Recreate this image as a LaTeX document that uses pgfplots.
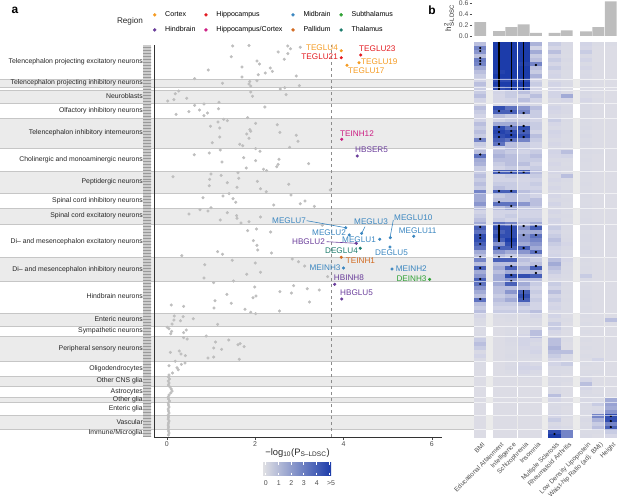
\documentclass[border=0pt]{standalone}
\usepackage{pgfplots}
\pgfplotsset{compat=1.18}
\usepackage{pgfplotstable}
\usepackage{amsmath}
\usepackage{fontspec}
\setmainfont{Liberation Sans}
\usetikzlibrary{patterns}

\newcommand\fs[1]{\fontsize{#1}{#1}\selectfont}

\definecolor{band}{HTML}{EBEBEB}
\definecolor{bline}{HTML}{C6C6C6}
\definecolor{dotg}{HTML}{BEBEBE}
\definecolor{txt}{HTML}{4D4D4D}
\definecolor{barg}{HTML}{BDBDBD}
\definecolor{cCtx}{HTML}{F59B22}
\definecolor{cHip}{HTML}{E3191F}
\definecolor{cMid}{HTML}{3A86C0}
\definecolor{cSub}{HTML}{2FA134}
\definecolor{cHind}{HTML}{6A3D9A}
\definecolor{cHC}{HTML}{CC1C82}
\definecolor{cPal}{HTML}{D2691E}
\definecolor{cTha}{HTML}{1B7B6C}
\definecolor{hm0}{RGB}{224,224,228}
\definecolor{hmA}{RGB}{210,212,230}
\definecolor{hm1}{RGB}{138,150,206}
\definecolor{hm2}{RGB}{28,60,170}

\pgfdeclareplotmark{cell}{%
  \pgfpathrectangle{\pgfqpoint{-6.1bp}{-2.1bp}}{\pgfqpoint{12.2bp}{4.2bp}}%
  \pgfusepathqfill}

\pgfplotsset{hmcell/.style={scatter, only marks, mark=cell, point meta=explicit,
    scatter/use mapped color={fill=mapped color}}}

% heatmap rows: y = -(pixel row), values on the 0..5 scale of -log10 P
\pgfplotstableread{
y bmi edu int sch ins ms ra ldl whr hgt
-44 1.5 5 5 5 1.8 1.2 0.6 1.0 0.4 0.4
-48 3.0 5 5 5 1.0 0.8 0.5 0.8 0.3 0.3
-52 2.5 5 5 5 2.0 1.5 0.5 1.2 0.3 0.3
-56 1.5 5 5 5 1.2 0.8 0.4 0.6 0.3 0.3
-60 3.2 5 5 5 1.5 1.2 0.6 1.0 0.3 0.3
-64 3.0 5 5 4.8 3.0 0.8 0.4 0.5 0.3 0.3
-68 2.0 5 5 5 1.5 1.2 0.5 0.8 0.3 0.3
-72 1.5 4.8 5 5 1.2 0.8 0.4 0.5 0.3 0.3
-76 1.2 5 5 5 1.8 1.0 0.4 0.6 0.3 0.3
-80 1.0 4.6 4.6 4.6 1.0 0.6 0.4 0.4 0.3 0.3
-84 1.5 5 5 5 1.2 1.0 0.5 0.5 0.3 0.3
-88 1.2 4.6 4.8 4.8 1.0 0.8 0.4 0.4 0.3 0.3
-92 1.2 1.0 1.2 1.5 1.0 1.0 0.5 0.6 0.4 0.3
-96 1.5 0.8 1.2 1.0 1.5 1.0 2.0 0.5 0.3 0.3
-100 1.0 0.8 1.0 1.5 1.0 0.6 0.8 0.8 0.4 0.3
-104 0.6 0.6 0.8 0.8 0.6 0.6 0.4 0.5 0.3 0.3
-108 1.5 4.5 3.5 2.5 1.5 1.0 0.6 0.5 0.3 0.3
-112 1.2 4.0 4.0 3.0 1.2 0.8 0.6 0.4 0.3 0.3
-116 1.0 1.5 1.2 1.0 1.2 0.6 0.4 0.4 0.3 0.3
-120 1.0 1.0 1.2 1.2 1.0 1.2 0.5 0.5 0.3 0.3
-124 1.5 2.0 2.0 1.5 1.2 0.8 0.4 0.4 0.3 0.3
-128 1.2 4.5 3.5 4.5 1.2 0.6 0.4 0.5 0.3 0.3
-132 1.5 4.8 4.5 4.0 1.0 1.0 0.5 0.4 0.3 0.3
-136 1.2 4.5 4.8 4.5 1.5 0.8 0.4 0.6 0.3 0.3
-140 3.0 4.0 3.5 3.0 1.2 0.6 0.4 0.4 0.3 0.3
-144 1.2 3.5 1.5 1.2 1.0 0.8 0.5 0.5 0.3 0.3
-148 1.0 1.2 1.5 1.2 1.0 0.6 0.4 0.4 0.3 0.3
-152 1.5 1.5 1.2 1.0 1.2 1.0 1.5 0.5 0.4 0.3
-156 3.5 1.8 1.5 1.2 1.5 0.8 1.0 0.4 0.3 0.3
-160 2.0 1.5 1.5 1.2 1.2 0.6 0.5 0.5 0.3 0.3
-164 1.8 1.2 1.5 1.5 1.0 0.8 0.4 0.4 0.3 0.3
-168 1.2 1.0 1.2 1.0 1.2 0.6 0.5 0.4 0.3 0.3
-172 1.2 4.0 4.0 4.0 1.5 0.8 0.4 0.5 0.3 0.3
-176 1.5 1.0 1.2 1.0 1.2 0.6 1.5 0.4 0.3 0.3
-180 1.2 1.0 1.0 0.8 1.0 0.8 0.5 0.4 0.3 0.3
-184 1.5 1.2 1.2 1.0 1.2 0.6 0.4 0.5 0.3 0.3
-188 1.2 1.5 1.2 1.0 1.0 0.8 0.4 0.4 0.3 0.3
-192 3.0 4.0 4.0 1.5 1.2 0.6 0.5 0.4 0.3 0.3
-196 2.0 1.2 1.5 1.2 1.0 0.8 0.4 0.5 0.3 0.3
-200 2.0 1.5 1.5 1.2 1.5 0.6 0.5 0.4 0.3 0.3
-204 2.5 3.5 3.5 2.5 1.5 1.0 0.4 0.4 0.3 0.3
-208 1.5 1.5 2.0 1.2 1.2 0.6 0.4 0.5 0.3 0.3
-212 1.0 1.0 1.0 1.0 1.0 0.8 0.4 0.4 0.3 0.3
-216 1.2 1.0 1.2 1.0 1.0 0.6 0.5 0.4 0.3 0.3
-220 1.5 1.2 1.0 1.2 1.2 1.0 0.4 0.5 0.3 0.3
-224 2.0 3.5 3.0 1.5 2.0 0.8 0.5 0.4 0.3 0.3
-228 4.0 4.5 4.5 2.5 4.0 1.2 0.5 0.5 0.3 0.3
-232 3.5 4.0 4.5 2.0 2.0 1.0 0.4 0.4 0.3 0.3
-236 4.5 4.5 4.5 2.5 3.5 1.2 0.5 0.5 0.3 0.3
-240 4.5 4.0 5.0 2.5 3.0 1.5 0.6 0.5 0.3 0.3
-244 4.0 2.5 4.5 2.0 2.5 1.2 0.8 0.4 0.3 0.3
-248 3.5 4.0 4.0 4.0 2.0 1.0 0.6 0.5 0.3 0.3
-252 2.0 2.5 2.0 2.5 3.5 0.8 0.5 0.6 0.3 0.3
-256 1.5 1.5 1.2 1.5 1.5 1.0 0.6 0.4 0.3 0.3
-260 3.0 4.0 4.0 1.5 1.2 1.5 0.8 0.5 0.3 0.3
-264 1.5 1.5 1.5 1.2 1.5 2.0 0.6 0.4 0.3 0.3
-268 4.0 2.0 4.0 2.0 4.0 1.5 0.5 0.5 0.3 0.3
-272 2.0 1.5 2.0 1.5 1.5 1.2 0.6 0.4 0.3 0.3
-276 2.5 2.0 4.5 4.5 4.0 0.8 0.5 1.2 0.3 0.3
-280 4.0 2.0 2.5 1.5 1.5 0.6 0.4 0.5 0.3 0.3
-284 3.5 2.0 4.0 2.0 1.2 1.2 0.5 0.4 0.3 0.3
-288 2.5 1.5 1.5 1.5 1.0 1.0 0.4 0.5 0.3 0.3
-292 2.0 1.5 2.5 4.0 1.2 1.5 0.5 0.4 0.3 0.3
-296 1.5 1.2 1.5 4.5 1.0 1.0 0.4 0.4 0.3 0.3
-300 3.5 1.5 2.0 4.0 1.2 1.2 0.5 0.5 0.3 0.3
-304 1.5 1.2 1.2 1.5 1.0 0.8 0.4 0.4 0.3 0.3
-308 1.2 1.0 1.0 1.0 1.0 1.0 0.4 0.5 0.3 0.3
-312 1.5 1.2 1.2 1.2 1.5 0.6 0.5 0.4 0.3 0.3
-316 0.8 0.4 0.5 0.5 0.8 1.0 0.3 0.4 0.3 0.3
-320 0.5 0.3 0.4 0.5 0.5 0.6 0.4 0.3 0.3 1.5
-324 0.4 0.3 0.3 0.4 0.4 1.2 0.3 0.4 0.3 0.3
-328 0.5 0.3 0.4 0.5 0.6 1.2 0.4 0.3 0.3 0.3
-332 0.4 0.3 0.4 0.6 1.5 0.8 0.3 0.4 0.3 0.3
-336 0.5 0.3 0.5 0.8 1.5 0.6 0.3 0.3 0.3 0.3
-340 1.2 0.3 0.6 1.0 0.8 1.5 0.4 0.4 0.3 0.3
-344 1.5 0.3 0.5 1.0 0.6 1.5 0.3 0.3 0.3 0.3
-348 1.2 0.3 0.4 0.8 0.8 1.8 0.3 0.4 0.3 0.3
-352 0.6 0.3 0.4 0.6 1.0 1.5 1.5 0.3 0.3 0.3
-356 1.0 0.3 0.5 0.5 0.6 1.2 0.5 0.4 0.3 0.3
-360 0.5 0.3 0.4 0.4 0.4 0.8 0.4 0.3 1.0 0.3
-364 0.4 0.3 0.5 0.8 0.6 1.0 1.2 0.4 0.3 0.3
-368 0.4 0.3 0.6 1.0 1.0 0.6 0.5 0.3 0.3 0.3
-372 0.3 0.3 0.4 0.8 0.6 0.5 0.4 0.4 0.4 0.3
-376 0.3 0.3 0.3 0.5 0.4 0.6 0.3 0.5 0.3 0.3
-380 0.3 0.3 0.3 0.3 0.3 0.5 0.4 0.8 0.3 0.3
-384 0.3 0.3 0.3 0.3 0.3 0.6 0.3 1.5 0.3 0.3
-388 0.3 0.3 0.3 0.3 0.3 0.5 0.3 0.8 0.4 0.3
-392 0.3 0.3 0.3 0.3 0.3 0.6 0.3 0.5 0.3 0.3
-396 0.3 0.3 0.3 0.3 0.3 1.5 0.3 0.4 0.4 0.3
-400 0.3 0.3 0.3 0.3 0.3 0.8 0.3 0.6 0.4 2.0
-404 0.3 0.3 0.3 0.3 0.3 0.5 0.4 0.5 1.2 2.2
-408 0.3 0.3 0.3 0.3 0.3 0.6 0.3 0.4 0.6 2.0
-412 0.3 0.3 0.3 0.3 0.3 0.5 0.3 0.5 0.8 2.5
-416 0.3 0.3 0.3 0.3 0.3 0.8 0.4 0.4 3.0 4.5
-420 0.3 0.3 0.3 0.3 0.3 1.2 0.3 0.6 1.8 4.5
-424 0.3 0.3 0.3 0.3 0.3 0.6 0.3 0.4 1.2 3.0
-428 0.3 0.3 0.3 0.3 0.3 0.8 0.5 0.5 1.5 4.0
-432 0.3 0.3 0.3 0.3 0.3 4.5 3.0 0.4 0.4 1.2
-436 0.3 0.3 0.3 0.3 0.3 5.0 3.0 0.5 0.3 0.8
}\hm

\begin{document}
\begin{tikzpicture}

\begin{scope}[x=1bp,y=-1bp]
  % alternating row bands
  \foreach \a/\b in {79/87,90/103,118/148,171/193,208/224,257/281,313/326,336/361,376/386.5,397.5/402,415/429.5}
    \fill[band] (0,\a) rectangle (617,\b);
  \foreach \y in {79,87,90,103,118,148,171,193,208,224,257,281,313,326,336,361,376,386.5,397.5,402,415,429.5}
    \draw[bline, line width=0.5bp] (0,\y) -- (617,\y);
  % cell-type name strip
  \fill[gray!40] (143,45) rectangle (151,437);
  \fill[pattern=horizontal lines, pattern color=gray!80] (143,45) rectangle (151,437);
\end{scope}

% ---------- panel a ----------
\begin{axis}[
  at={(154bp,-437bp)}, anchor=south west,
  scale only axis, width=288bp, height=392bp,
  xmin=-0.29, xmax=6.23, ymin=-437, ymax=-45,
  axis x line*=bottom, axis y line*=left,
  axis line style={draw=black!80, line width=1bp, -},
  xtick={0,2,4,6}, ytick=\empty,
  tick align=outside, major tick length=3bp,
  tick style={black!70, line width=0.5bp},
  xticklabel style={font=\fs{7}, text=txt, inner sep=1.5bp},
  /pgf/number format/assume math mode=true,
  clip=false,
  legend columns=4,
  legend cell align=left,
  legend image code/.code={\path[draw=none] (-3bp,0bp) -- (8.5bp,0bp);
    \draw[#1] plot coordinates {(0bp,0bp)};},
  legend style={at={(-0.019,1.096)}, anchor=north west, draw=none, fill=none,
    font=\fs{7.1}, row sep=4.5bp,
    /tikz/every even column/.append style={column sep=5.5bp}},
]
\addplot[dashed, dash pattern=on 3bp off 3bp, black!45, line width=0.5bp, forget plot]
  coordinates {(3.73,-437) (3.73,-45)};

\addplot[only marks, mark=*, mark size=1.35bp, dotg, forget plot] coordinates {
 (1.49,-46) (1.86,-45.5) (2.74,-46) (2.80,-48.7) (2.52,-52) (2.74,-53.7) (1.46,-56.7)
 (2.66,-59.3) (2.04,-61) (2.10,-64) (0.94,-70) (1.70,-67) (2.34,-68) (2.39,-71.3)
 (2.23,-73) (2.07,-74.7) (1.70,-77) (2.93,-76) (3.02,-47.3)
 (0.63,-78.7) (2.04,-80.7) (1.26,-83.3) (1.88,-81.5) (1.86,-84) (1.90,-86) (2.57,-89)
 (2.67,-87.7) (3.00,-85.7) (1.90,-92) (2.70,-94.7) (1.94,-96.3) (0.27,-91) (0.19,-93.7)
 (0.16,-99.7) (0.02,-101) (0.45,-98.3)
 (0.63,-105.3) (0.84,-104) (1.18,-102.3) (1.17,-108.7) (0.74,-110) (0.50,-111.7)
 (0.92,-113) (0.84,-115.7) (0.21,-114.3) (2.22,-107)
 (1.83,-117.7) (1.29,-119.3) (1.37,-120.7) (1.16,-122) (2.01,-123.3) (0.99,-126.3)
 (1.20,-128) (2.50,-124.7) (1.88,-129.7) (1.90,-131.3) (1.81,-134) (1.86,-138.3)
 (2.56,-132.3) (1.20,-137) (2.93,-135.3) (2.97,-141.3) (1.03,-142.7) (1.65,-144.3)
 (1.72,-145.7) (2.78,-147.3)
 (2.01,-148.7) (2.11,-151.3) (1.21,-150) (0.96,-153) (0.62,-154.7) (1.74,-157.7)
 (2.01,-160.7) (1.25,-162) (2.54,-159.3) (2.52,-164.3) (2.49,-166.7) (3.21,-163.7)
 (1.80,-168) (2.19,-169.3) (2.26,-170.7)
 (0.14,-176.7) (1.00,-174) (1.23,-175.3) (1.61,-172.7) (0.97,-179.3) (0.96,-185.7)
 (1.63,-178.3) (1.37,-182.7) (1.59,-187.3) (2.05,-181.3) (2.12,-188.7) (2.25,-191.7)
 (2.76,-184.3) (3.70,-190)
 (1.41,-193.7) (0.82,-197.7) (1.27,-196) (1.50,-198.7) (1.56,-202.3) (2.81,-195)
 (2.42,-205) (3.02,-203.7) (3.13,-201) (3.34,-206.3)
 (0.50,-214) (0.75,-209.7) (0.93,-211) (1.00,-207.7) (1.21,-220) (1.37,-212.7)
 (1.58,-215.7) (1.59,-218.3) (1.68,-223) (1.86,-221.7) (2.12,-217) (3.52,-225.3)
 (1.83,-230.7) (2.03,-229) (2.35,-232) (1.96,-240.7) (2.04,-245.3) (2.06,-250)
 (1.15,-251.7) (1.26,-254.3) (2.37,-253) (0.34,-255.7)
 (0.86,-264.7) (1.48,-260.3) (2.00,-263) (1.81,-274.3) (2.12,-272.3) (0.84,-278)
 (1.06,-282.7) (1.51,-281) (2.84,-259) (2.98,-261.7) (3.12,-266) (3.64,-276.7)
 (1.99,-287) (2.56,-291.7) (2.87,-285.7) (2.82,-293) (3.18,-288.7) (3.45,-290)
 (3.23,-302) (1.36,-294.3) (1.09,-300.7) (1.46,-303.3) (1.07,-308) (1.95,-297.7)
 (2.02,-296) (0.10,-305) (0.38,-306.3) (1.77,-309.3) (1.90,-312.3) (2.01,-313.7) (2.55,-311)
 (0.17,-316) (0.16,-320) (0.12,-324) (0.01,-327.3) (0.05,-328.7) (0.37,-316.7)
 (0.31,-320.7) (0.60,-318.7) (1.15,-324.3)
 (0.44,-330) (0.38,-332.7) (0.09,-333.7) (0.11,-331.3) (0.38,-337.7) (0.46,-339) (0.89,-336)
 (1.10,-342) (1.40,-340) (1.61,-344.7) (1.66,-343.7) (1.75,-346.7) (1.06,-348)
 (1.24,-349.3) (0.08,-352.3) (0.28,-351) (0.32,-354) (0.42,-355.7) (0.93,-358)
 (1.06,-357) (1.64,-359.3)
 (0.05,-365.7) (0.19,-361.3) (0.41,-363) (0.33,-364.3) (0.23,-367.7) (0.26,-369.7)
 (0.13,-373) (0.05,-375)
 (0.04,-377) (0.06,-379) (0.03,-381) (0.05,-383) (0.04,-385) (0.07,-387) (0.10,-389)
 (0.12,-391) (0.09,-393) (0.05,-395) (0.03,-397) (0.04,-399) (0.06,-401) (0.03,-403)
 (0.04,-405) (0.05,-407) (0.03,-409) (0.04,-411) (0.05,-413) (0.03,-415) (0.04,-417)
 (0.03,-419) (0.05,-421) (0.04,-423) (0.03,-425) (0.04,-427) (0.03,-429) (0.04,-431)
 (0.05,-433) (0.04,-435)
};

\addplot[only marks, mark=*, mark size=1.35bp, cCtx, forget plot] coordinates {(3.95,-50.7) (4.35,-62.7) (4.08,-65.3)};
\addplot[only marks, mark=*, mark size=1.35bp, cHip, forget plot] coordinates {(4.39,-55) (3.95,-57.7)};
\addplot[only marks, mark=*, mark size=1.35bp, cHC, forget plot] coordinates {(3.96,-139.3)};
\addplot[only marks, mark=*, mark size=1.35bp, cHind, forget plot] coordinates {(4.31,-156) (4.29,-243.3) (3.80,-284.3) (3.96,-299)};
\addplot[only marks, mark=*, mark size=1.35bp, cMid, forget plot] coordinates {(4.05,-227.7) (4.41,-233.3) (5.06,-237.7) (4.13,-235) (5.59,-236.3) (4.82,-239.3) (5.05,-247) (4.00,-268) (5.10,-269)};
\addplot[only marks, mark=*, mark size=1.35bp, cTha, forget plot] coordinates {(4.38,-248.3)};
\addplot[only marks, mark=*, mark size=1.35bp, cPal, forget plot] coordinates {(3.95,-257.3)};
\addplot[only marks, mark=*, mark size=1.35bp, cSub, forget plot] coordinates {(5.95,-279.3)};

\addlegendimage{only marks, mark=*, mark size=1.5bp, cCtx}\addlegendentry{Cortex}
\addlegendimage{only marks, mark=*, mark size=1.5bp, cHip}\addlegendentry{Hippocampus}
\addlegendimage{only marks, mark=*, mark size=1.5bp, cMid}\addlegendentry{Midbrain}
\addlegendimage{only marks, mark=*, mark size=1.5bp, cSub}\addlegendentry{Subthalamus}
\addlegendimage{only marks, mark=*, mark size=1.5bp, cHind}\addlegendentry{Hindbrain}
\addlegendimage{only marks, mark=*, mark size=1.5bp, cHC}\addlegendentry{Hippocampus/Cortex}
\addlegendimage{only marks, mark=*, mark size=1.5bp, cPal}\addlegendentry{Pallidum}
\addlegendimage{only marks, mark=*, mark size=1.5bp, cTha}\addlegendentry{Thalamus}
\end{axis}

% ---------- panel b heatmap ----------
\begin{axis}[
  at={(474bp,-438bp)}, anchor=south west, scale only axis,
  width=143bp, height=396bp, xmin=474, xmax=617, ymin=-438, ymax=-42,
  hide axis, clip=false,
  colormap={hm}{color(0cm)=(hm0) color(1cm)=(hmA) color(2.5cm)=(hm1) color(5cm)=(hm2)},
  point meta min=0, point meta max=5,
]
\addplot[hmcell] table[x expr=480.3, y=y, meta=bmi] \hm;
\addplot[hmcell] table[x expr=499.0, y=y, meta=edu] \hm;
\addplot[hmcell] table[x expr=511.3, y=y, meta=int] \hm;
\addplot[hmcell] table[x expr=523.6, y=y, meta=sch] \hm;
\addplot[hmcell] table[x expr=535.9, y=y, meta=ins] \hm;
\addplot[hmcell] table[x expr=554.5, y=y, meta=ms] \hm;
\addplot[hmcell] table[x expr=566.8, y=y, meta=ra] \hm;
\addplot[hmcell] table[x expr=586.0, y=y, meta=ldl] \hm;
\addplot[hmcell] table[x expr=598.3, y=y, meta=whr] \hm;
\addplot[hmcell] table[x expr=610.8, y=y, meta=hgt] \hm;
\end{axis}

% significance marks on top of the heatmap
\begin{axis}[
  at={(474bp,-438bp)}, anchor=south west, scale only axis,
  width=143bp, height=396bp, xmin=474, xmax=617, ymin=-438, ymax=-42,
  hide axis, clip=false,
]
\addplot[black, line width=1.1bp] coordinates {(499.0,-42) (499.0,-90)};
\addplot[black, line width=1.1bp] coordinates {(511.3,-42) (511.3,-90)};
\addplot[black, line width=1.1bp] coordinates {(523.6,-42) (523.6,-90)};
\addplot[black, line width=1.1bp] coordinates {(499.0,-224) (499.0,-242)};
\addplot[black, line width=1.1bp] coordinates {(511.3,-224) (511.3,-248)};
\addplot[black, line width=1.1bp] coordinates {(523.6,-290) (523.6,-300)};
\addplot[only marks, mark=*, mark size=0.9bp, black] coordinates {
 (480.3,-48) (480.3,-51) (480.3,-58) (480.3,-61) (480.3,-64) (480.3,-139) (480.3,-154.5)
 (480.3,-227) (480.3,-235) (480.3,-238) (480.3,-244) (480.3,-257) (480.3,-268)
 (480.3,-279) (480.3,-284) (480.3,-299)
 (499.0,-111) (499.0,-127) (499.0,-132) (499.0,-137) (499.0,-144) (499.0,-172)
 (499.0,-191) (499.0,-202) (499.0,-248) (499.0,-257)
 (511.3,-111) (511.3,-126) (511.3,-131) (511.3,-135) (511.3,-140) (511.3,-172)
 (511.3,-191) (511.3,-206) (511.3,-257) (511.3,-266) (511.3,-275) (511.3,-281)
 (523.6,-113) (523.6,-126) (523.6,-131) (523.6,-137) (523.6,-172) (523.6,-226)
 (523.6,-235) (523.6,-248)
 (535.9,-65) (535.9,-226) (535.9,-235) (535.9,-252) (535.9,-266) (535.9,-273)
 (554.5,-434) (610.8,-416) (610.8,-421) (610.8,-427)
};
\end{axis}

% ---------- panel b bars ----------
\begin{axis}[
  at={(472bp,-36bp)}, anchor=south west, scale only axis,
  width=145bp, height=35.75bp, xmin=472, xmax=617, ymin=0, ymax=0.65,
  axis x line=none, axis y line*=left, y axis line style={draw=none},
  ytick={0,0.2,0.4,0.6},
  yticklabel={\pgfmathprintnumber[fixed,fixed zerofill,precision=1]{\tick}},
  yticklabel style={font=\fs{6.8}, text=txt, inner sep=1bp},
  /pgf/number format/assume math mode=true,
  tick align=outside, major tick length=2.5bp,
  tick style={black!70, line width=0.5bp},
  ybar, bar width=11.8, clip=false,
]
\addplot[fill=barg, draw=none] coordinates {(480.3,0.25) (499.0,0.09) (511.3,0.16)
  (523.6,0.21) (535.9,0.055) (554.5,0.055) (566.8,0.10) (586.0,0.085) (598.3,0.16) (610.8,0.63)};
\end{axis}

\begin{scope}[x=1bp,y=-1bp]
  % band borders across the heatmap
  \foreach \y in {79,87,90,103,118,148,171,193,208,224,257,281,313,326,336,361,376,386.5,397.5,402,415,429.5}
    \draw[white, opacity=0.6, line width=0.5bp] (474,\y) -- (617,\y);

  % category labels
  \begin{scope}[every node/.style={anchor=east, font=\fs{6.9}, text=black!85, inner sep=0pt}]
  \node at (143,62) {Telencephalon projecting excitatory neurons};
  \node at (143,83) {Telencephalon projecting inhibitory neurons};
  \node at (143,96.5) {Neuroblasts};
  \node at (143,110.5) {Olfactory inhibitory neurons};
  \node at (143,133) {Telencephalon inhibitory interneurons};
  \node at (143,159.5) {Cholinergic and monoaminergic neurons};
  \node at (143,182) {Peptidergic neurons};
  \node at (143,200.5) {Spinal cord inhibitory neurons};
  \node at (143,216) {Spinal cord excitatory neurons};
  \node at (143,242) {Di– and mesencephalon excitatory neurons};
  \node at (143,270) {Di– and mesencephalon inhibitory neurons};
  \node at (143,296) {Hindbrain neurons};
  \node at (143,319.5) {Enteric neurons};
  \node at (143,331) {Sympathetic neurons};
  \node at (143,349) {Peripheral sensory neurons};
  \node at (143,368.5) {Oligodendrocytes};
  \node at (143,381) {Other CNS glia};
  \node at (143,392) {Astrocytes};
  \node at (143,399.5) {Other glia};
  \node at (143,408.5) {Enteric glia};
  \node at (143,422.5) {Vascular};
  \node at (143,433) {Immune/Microglia};
  \end{scope}

  % highlighted cell-type labels
  \begin{scope}[every node/.style={font=\fs{8.2}, inner sep=0pt}]
  \node[anchor=east, text=cCtx] at (338,48) {TEGLU4};
  \node[anchor=west, text=cHip] at (359,49) {TEGLU23};
  \node[anchor=east, text=cHip] at (338,57) {TEGLU21};
  \node[anchor=west, text=cCtx] at (361,61.7) {TEGLU19};
  \node[anchor=west, text=cCtx] at (348,70.3) {TEGLU17};
  \node[anchor=west, text=cHC] at (340,133.3) {TEINH12};
  \node[anchor=west, text=cHind] at (355,150) {HBSER5};
  \node[anchor=east, text=cMid] at (306,220.7) {MEGLU7};
  \node[anchor=west, text=cMid] at (354,222) {MEGLU3};
  \node[anchor=west, text=cMid] at (394,218) {MEGLU10};
  \node[anchor=east, text=cMid] at (346,232.3) {MEGLU2};
  \node[anchor=west, text=cMid] at (398.7,230.7) {MEGLU11};
  \node[anchor=east, text=cMid] at (376,239.3) {MEGLU1};
  \node[anchor=east, text=cHind] at (325,241.7) {HBGLU2};
  \node[anchor=east, text=cTha] at (358,250.3) {DEGLU4};
  \node[anchor=west, text=cMid] at (375,252.7) {DEGLU5};
  \node[anchor=west, text=cPal] at (345.7,260.3) {TEINH1};
  \node[anchor=east, text=cMid] at (340.7,267.3) {MEINH3};
  \node[anchor=west, text=cMid] at (395.7,269) {MEINH2};
  \node[anchor=east, text=cSub] at (426.7,279) {DEINH3};
  \node[anchor=west, text=cHind] at (333.7,278) {HBINH8};
  \node[anchor=west, text=cHind] at (340,292.7) {HBGLU5};
  \end{scope}
  \draw[cMid, line width=0.6bp] (306.7,220.7) -- (345.7,227.7);
  \draw[cMid, line width=0.6bp] (365,226.7) -- (361.7,233.3);
  \draw[cMid, line width=0.6bp] (393.3,220) -- (390,237.7);
  \draw[cHind, line width=0.6bp] (326.7,241.7) -- (356,243.3);

  % legend title, axis label, colour key
  \node[font=\fs{8.2}, text=black!85] at (130,21.3) {Region};
  \node[font=\fs{9.4}, text=black!85] at (297.5,453) {−log\textsubscript{10}(P\textsubscript{S–LDSC})};
  \shade[left color=hm0, middle color=hm1, right color=hm2] (263,462) rectangle (331,475);
  \foreach \x in {265.7,278.7,291.3,303.7,316.7,329.5} {
    \draw[white, line width=0.5bp] (\x,462) -- (\x,464.5) (\x,472.5) -- (\x,475);
  }
  \begin{scope}[every node/.style={font=\fs{7}, text=txt, inner sep=0pt}]
  \node at (265.7,482.7) {0};
  \node at (278.7,482.7) {1};
  \node at (291.3,482.7) {2};
  \node at (303.7,482.7) {3};
  \node at (316.7,482.7) {4};
  \node at (331,482.7) {>5};
  \end{scope}

  % panel b labels
  \node[font=\fs{8}, text=black!85, rotate=90] at (449,18) {h$^{\text{2}}_{\text{S-LDSC}}$};
  \begin{scope}[every node/.style={font=\fs{6.5}, text=txt, rotate=45, anchor=north east, inner sep=0.5pt}]
  \node at (482,441) {BMI};
  \node at (500.7,441) {Educational Attainment};
  \node at (513,441) {Intelligence};
  \node at (525.3,441) {Schizophrenia};
  \node at (537.6,441) {Insomnia};
  \node at (556.2,441) {Multiple Sclerosis};
  \node at (568.5,441) {Rheumatoid Arthritis};
  \node at (587.7,441) {Low Density Lipoprotein};
  \node at (600,441) {Waist-hip Ratio (adj. BMI)};
  \node at (612.5,441) {Height};
  \end{scope}

  \node[font=\bfseries\fs{12}, anchor=center] at (15,10) {a};
  \node[font=\bfseries\fs{12}, anchor=center] at (432,10) {b};

  \pgfresetboundingbox
  \path[use as bounding box] (0,0) rectangle (617,502);
\end{scope}
\end{tikzpicture}
\end{document}
